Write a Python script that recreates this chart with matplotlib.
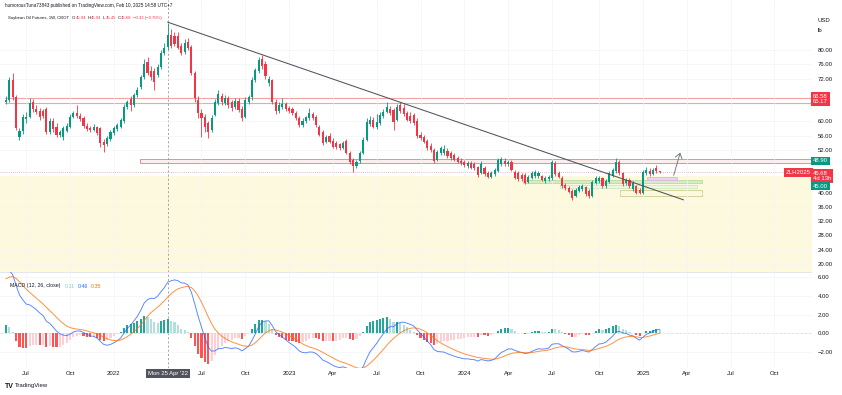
import numpy as np
import pandas as pd
import matplotlib
matplotlib.use("Agg")
import matplotlib.pyplot as plt
import matplotlib.dates as mdates
from matplotlib.patches import Rectangle
from matplotlib.transforms import blended_transform_factory

plt.rcParams['font.family'] = ['Liberation Sans', 'DejaVu Sans']

# ---------------- data (weekly candles, Soybean Oil Futures, CBOT) ----------------
first_week = "2021-05-24"
opens = [65.3, 66.0, 71.6, 66.8, 55.6, 57.2, 60.6, 61.3, 65.4, 63.6,
         63.0, 62.8, 63.5, 57.0, 60.2, 58.5, 56.3, 55.6, 57.3, 58.4,
         61.2, 62.4, 61.6, 61.0, 58.8, 58.2, 57.6, 58.3, 58.0, 54.2,
         53.6, 55.0, 56.8, 57.8, 58.5, 60.0, 64.0, 66.2, 64.6, 67.4,
         69.5, 72.4, 76.5, 74.2, 74.0, 73.0, 75.2, 79.2, 80.8, 84.2,
         83.8, 84.0, 81.0, 79.5, 82.2, 80.8, 73.5, 66.0, 62.3, 61.2,
         59.5, 57.5, 61.8, 65.2, 67.0, 65.2, 66.5, 65.4, 64.0, 65.8,
         63.4, 61.2, 65.5, 66.8, 71.6, 74.0, 77.6, 76.2, 70.8, 71.5,
         65.5, 62.8, 64.0, 64.8, 63.8, 63.4, 62.4, 61.0, 59.0, 60.0,
         61.0, 62.0, 61.2, 58.5, 57.0, 54.2, 56.0, 54.5, 53.9, 53.6,
         52.6, 54.4, 51.2, 49.2, 47.6, 48.8, 51.1, 54.8, 59.2, 60.4,
         58.5, 59.6, 61.5, 62.6, 63.4, 63.2, 60.4, 64.6, 63.8, 62.4,
         61.6, 61.8, 60.2, 56.3, 55.6, 54.5, 53.2, 52.0, 49.2, 51.0,
         51.0, 51.8, 51.0, 50.5, 49.8, 49.0, 48.6, 47.6, 48.3, 48.0,
         47.2, 45.6, 47.0, 45.4, 44.5, 45.2, 46.2, 48.0, 49.0, 47.9,
         48.6, 45.8, 45.4, 45.0, 45.0, 43.0, 44.2, 44.6, 44.6, 44.6,
         43.2, 43.8, 44.0, 48.4, 45.4, 44.2, 42.2, 41.4, 40.6, 39.2,
         40.6, 41.0, 41.6, 40.4, 39.2, 42.8, 43.2, 44.0, 41.8, 43.0,
         44.8, 46.0, 48.6, 45.4, 42.6, 43.6, 41.0, 41.8, 40.8, 40.0,
         45.5, 46.2, 45.2, 47.0, 45.94]
highs = [67.0, 72.5, 73.5, 67.5, 58.0, 62.0, 62.5, 66.5, 66.2, 64.5,
         63.8, 63.5, 64.0, 61.0, 61.0, 59.5, 57.5, 58.6, 59.5, 62.0,
         63.0, 64.6, 62.2, 61.5, 59.5, 58.8, 59.2, 58.8, 58.5, 55.0,
         55.8, 57.6, 58.6, 59.6, 61.0, 64.8, 66.0, 67.0, 68.0, 69.6,
         73.0, 77.5, 78.0, 75.5, 75.0, 76.0, 80.0, 82.0, 87.6, 85.8,
         85.0, 85.0, 82.0, 83.0, 83.4, 81.5, 74.0, 67.0, 63.5, 62.0,
         60.0, 61.8, 66.2, 68.8, 68.0, 67.5, 67.2, 66.0, 66.5, 66.5,
         64.2, 66.8, 67.5, 72.5, 75.0, 78.0, 78.6, 77.0, 72.8, 72.0,
         66.2, 65.3, 66.5, 65.5, 64.4, 64.0, 63.0, 61.5, 60.8, 61.6,
         63.7, 62.6, 61.8, 59.0, 57.5, 56.2, 56.6, 55.2, 54.5, 54.0,
         54.6, 55.0, 51.6, 49.8, 49.2, 51.8, 55.5, 60.8, 61.5, 61.2,
         62.0, 62.5, 63.4, 65.4, 64.2, 63.8, 64.8, 65.5, 64.8, 63.0,
         62.5, 62.4, 60.8, 57.0, 56.2, 55.0, 53.8, 52.4, 52.0, 53.2,
         53.5, 52.4, 51.6, 51.0, 50.4, 49.6, 49.2, 49.0, 48.8, 48.6,
         47.6, 48.8, 47.5, 46.0, 46.0, 46.9, 49.8, 50.0, 49.6, 49.3,
         49.2, 46.4, 46.0, 45.5, 45.5, 45.0, 46.0, 46.4, 46.0, 45.0,
         44.6, 45.0, 49.2, 49.0, 46.0, 44.6, 42.8, 41.8, 41.0, 41.3,
         42.2, 42.5, 42.0, 41.0, 43.6, 44.8, 44.8, 44.5, 43.8, 46.0,
         47.0, 49.8, 49.2, 45.8, 44.2, 44.2, 43.2, 42.2, 41.2, 46.4,
         47.2, 46.8, 47.0, 47.8, 45.94]
lows = [64.8, 65.5, 66.0, 57.5, 54.9, 56.5, 59.5, 60.8, 62.5, 62.0,
        60.5, 61.0, 56.5, 56.5, 57.0, 55.5, 55.5, 54.9, 57.0, 58.0,
        60.8, 61.0, 60.0, 58.0, 57.2, 57.0, 57.2, 56.2, 52.8, 51.5,
        53.0, 54.5, 56.3, 57.3, 58.0, 59.5, 63.6, 63.0, 64.0, 66.8,
        69.0, 72.0, 73.0, 71.5, 68.8, 72.5, 74.8, 78.5, 80.0, 80.5,
        81.0, 80.2, 78.5, 79.0, 80.0, 73.0, 65.5, 61.0, 55.6, 57.0,
        55.3, 57.0, 61.4, 64.5, 64.5, 64.5, 63.8, 63.0, 63.5, 62.5,
        60.0, 60.8, 64.8, 66.0, 71.0, 73.5, 74.8, 72.0, 70.0, 65.0,
        62.0, 62.2, 63.5, 62.8, 62.2, 61.8, 60.5, 58.5, 58.4, 59.5,
        60.5, 60.5, 58.5, 55.8, 53.5, 53.8, 53.8, 52.5, 52.3, 52.0,
        52.2, 50.8, 48.0, 45.8, 46.8, 48.4, 50.8, 54.5, 58.6, 58.0,
        57.8, 59.0, 61.0, 62.2, 61.8, 57.6, 60.0, 62.2, 61.5, 60.0,
        59.5, 59.0, 55.2, 54.8, 53.8, 52.0, 51.5, 48.2, 48.8, 50.5,
        50.6, 49.8, 49.3, 48.8, 48.2, 47.8, 47.2, 47.0, 46.5, 46.4,
        44.5, 45.2, 44.8, 44.0, 44.0, 44.8, 45.8, 47.5, 47.4, 47.4,
        46.0, 43.8, 43.3, 43.2, 42.3, 42.6, 43.8, 44.2, 44.0, 43.2,
        42.8, 43.4, 43.6, 44.8, 44.0, 41.3, 40.8, 39.8, 38.0, 38.8,
        40.2, 40.6, 39.2, 38.5, 38.8, 42.4, 42.8, 41.4, 41.4, 42.6,
        44.4, 45.6, 45.0, 42.0, 42.2, 41.4, 40.6, 39.6, 39.5, 39.6,
        45.0, 44.8, 44.9, 45.5, 45.45]
closes = [66.0, 71.6, 66.8, 58.2, 57.2, 61.2, 61.3, 65.1, 63.4, 62.6,
          61.3, 61.6, 57.0, 60.2, 57.8, 56.3, 56.9, 58.1, 58.7, 61.2,
          62.4, 61.6, 60.6, 58.6, 57.8, 57.6, 58.5, 56.8, 54.0, 53.3,
          55.2, 57.0, 58.1, 59.0, 60.4, 64.0, 65.4, 64.6, 67.4, 68.8,
          72.4, 76.2, 73.6, 72.5, 71.0, 75.2, 79.2, 80.6, 84.2, 81.2,
          81.8, 80.6, 79.3, 82.0, 80.6, 73.5, 66.5, 62.3, 61.0, 58.4,
          57.0, 61.0, 65.4, 67.8, 65.4, 66.6, 64.5, 63.8, 65.6, 63.2,
          61.0, 66.0, 66.8, 71.6, 74.4, 77.2, 75.4, 72.6, 71.8, 65.5,
          62.8, 64.5, 65.0, 63.4, 62.8, 62.4, 61.0, 59.0, 60.2, 61.2,
          62.3, 61.0, 59.0, 56.3, 54.0, 55.6, 54.3, 52.9, 52.8, 52.5,
          54.0, 51.2, 48.6, 47.6, 48.6, 51.1, 54.8, 59.8, 60.4, 58.5,
          59.8, 61.8, 62.6, 64.0, 62.4, 59.8, 64.0, 62.8, 62.0, 60.5,
          60.0, 59.6, 55.8, 55.4, 54.3, 52.6, 52.0, 48.8, 51.4, 52.5,
          52.2, 50.2, 49.8, 49.3, 48.6, 48.3, 47.8, 48.3, 47.0, 46.9,
          45.0, 48.0, 45.2, 44.5, 45.5, 46.4, 49.2, 49.4, 47.9, 48.6,
          46.4, 44.2, 43.8, 43.7, 42.8, 44.4, 45.5, 45.8, 45.4, 43.6,
          44.0, 44.4, 48.6, 45.2, 44.4, 41.8, 41.3, 40.3, 38.6, 40.8,
          41.6, 41.8, 39.6, 39.0, 43.0, 44.1, 44.2, 41.8, 43.2, 45.5,
          46.4, 48.6, 45.4, 42.4, 43.6, 41.8, 42.6, 40.0, 40.0, 45.8,
          46.4, 45.2, 46.4, 46.0, 45.68]

# MACD state carried in from the history before the first visible bar
ema_fast_seed = 65.4
ema_slow_seed = 58.2
signal_seed = 5.6

# drawings on the chart
trend_weeks = [48, 201]
trend_prices = [87.8, 38.0]
resist_lines = [66.58, 65.17]
resist_box = [48.3, 49.35]
support_zone_top = 44.7
price_ticks = [20, 24, 28, 32, 36, 40, 52, 56, 60, 72, 76, 80]
macd_ticks = [-2, 0, 2, 4, 6]
tick_dates = ["2021-07-05", "2021-10-04", "2022-01-03", "2022-07-04", "2022-10-03",
              "2023-01-02", "2023-04-03", "2023-07-03", "2023-10-02", "2024-01-01",
              "2024-04-01", "2024-07-01", "2024-10-07", "2025-01-06", "2025-04-07",
              "2025-07-07", "2025-10-06"]
tick_labels = ["Jul", "Oct", "2022", "Jul", "Oct", "2023", "Apr", "Jul", "Oct", "2024",
               "Apr", "Jul", "Oct", "2025", "Apr", "Jul", "Oct"]

# ---------------- figure ----------------
W, H = 842, 395
PLOT_R = 812
fig = plt.figure(figsize=(W / 100, H / 100), dpi=100)
fig.patch.set_facecolor('white')


def rect_px(left, top, w, h):
    return [left / W, 1 - (top + h) / H, w / W, h / H]


ax = fig.add_axes(rect_px(0, 0, PLOT_R, 272))
axm = fig.add_axes(rect_px(0, 272, PLOT_R, 96), sharex=ax)

UP, DN = '#089981', '#F23645'
TXT = '#131722'

dates = pd.date_range(first_week, periods=len(closes), freq='7D')
xd = mdates.date2num(dates)
wk = 7.0
x_left = xd[0] - 1.78 * wk
x_right = xd[0] + (PLOT_R - 6) / 3.37 * wk

for a in (ax, axm):
    for s in a.spines.values():
        s.set_visible(False)
    a.set_facecolor('white')

ax.set_xlim(x_left, x_right)
ax.set_ylim(17.76, 94.02)
axm.set_ylim(-3.67, 6.54)

tick_x = mdates.date2num(pd.to_datetime(tick_dates))
ax.set_xticks(tick_x)
ax.tick_params(axis='x', length=0, labelbottom=False)
ax.grid(True, color='#f3f4f7', lw=0.5)
axm.grid(True, color='#f3f4f7', lw=0.5)

# support (yellow) zone
ax.add_patch(Rectangle((x_left, 0), x_right - x_left, support_zone_top,
                       facecolor='#fdf9de', edgecolor='none', zorder=0.5))

# resistance lines and box
for p in resist_lines:
    ax.plot([xd[0] - 0.3 * wk, x_right], [p, p], color='#f3a3a3', lw=0.8, zorder=1)
rb_x0 = xd[0] + 39.8 * wk
ax.add_patch(Rectangle((rb_x0, resist_box[0]), x_right - rb_x0, resist_box[1] - resist_box[0],
                       facecolor='#fdeeee', edgecolor='#ec8e8e', lw=0.7, zorder=1))

# small zones near the recent bars
zones = [  # (start week, end week, low, high, face, edge)
    (153.4, 206.6, 42.7, 43.6, '#d7ecc5', '#b9dca0'),
    (164.4, 205.1, 41.3, 42.2, '#eef6e6', '#cfe6bf'),
    (182.2, 206.6, 39.1, 40.8, 'none', '#c9cf8f'),
    (190.2, 199.1, 43.6, 44.4, '#e8d4ec', '#d9b8e0'),
]
for s, e, lo, hi, fc, ec in zones:
    ax.add_patch(Rectangle((xd[0] + s * wk, lo), (e - s) * wk, hi - lo,
                           facecolor=fc, edgecolor=ec, lw=0.6, zorder=1.2))

# last price dotted line
ax.axhline(closes[-1], color='#e3a3a8', lw=0.6, ls=(0, (1, 1.5)), zorder=1)

# crosshair (vertical dashed)
cross_x = xd[48]
ax.axvline(cross_x, color='#9598a1', lw=0.6, ls=(0, (2.5, 2.5)), zorder=1.5)
axm.axvline(cross_x, color='#9598a1', lw=0.6, ls=(0, (2.5, 2.5)), zorder=1.5)

# candles
o = np.array(opens); h = np.array(highs); l = np.array(lows); c = np.array(closes)
col = np.where(c >= o, UP, DN)
ax.vlines(xd, l, h, colors=col, lw=0.6, zorder=3)
ax.bar(xd, np.maximum(np.abs(c - o), 0.15), bottom=np.minimum(o, c), width=4.4,
       color=col, linewidth=0, zorder=4)

# trend line
tx = [xd[0] + w * wk for w in trend_weeks]
ax.plot(tx, trend_prices, color='#50535e', lw=0.75, zorder=5)

# arrow
ax.annotate('', xy=(xd[0] + 200.3 * wk, 52.0), xytext=(xd[0] + 197.9 * wk, 44.1),
            arrowprops=dict(arrowstyle='->,head_length=0.35,head_width=0.25',
                            color='#787b86', lw=0.7), zorder=6)

# right price scale
ax.yaxis.tick_right()
ax.set_yticks(price_ticks)
ax.set_yticklabels([f"{v:.2f}" for v in price_ticks])
ax.tick_params(axis='y', length=0, pad=4, labelsize=4.3, colors=TXT)

tr = blended_transform_factory(fig.transFigure, ax.transData)


def tag(y, text, color, xpx=PLOT_R + 1, ha='left', ls=1.1):
    ax.text(xpx / W, y, text, transform=tr, ha=ha, va='center', fontsize=4.3,
            color='white', linespacing=ls, clip_on=False, zorder=10,
            bbox=dict(boxstyle='square,pad=0.28', fc=color, ec='none'))


tag(66.2, "66.58\n65.17", DN)
tag(48.9, "48.90", UP)
tag(44.6, "45.68\n4d 13h", DN)
tag(41.8, "45.00", UP)
tag(45.68, "ZLH2025", DN, xpx=PLOT_R - 1, ha='right')
fig.text(818 / W, 1 - 20 / H, "USD", fontsize=4.3, color=TXT, va='center')
fig.text(818 / W, 1 - 31 / H, "lb", fontsize=4.3, color=TXT, va='center')

# ---------------- MACD ----------------
def ema(values, span, seed):
    a = 2.0 / (span + 1)
    out, e = [], seed
    for v in values:
        e = e + a * (v - e)
        out.append(e)
    return np.array(out)


macd = ema(closes, 12, ema_fast_seed) - ema(closes, 26, ema_slow_seed)
signal = ema(macd, 9, signal_seed)
hist = macd - signal
hcol = []
prev = hist[0]
for i, v in enumerate(hist):
    rising = v > prev if i > 0 else True
    if v >= 0:
        hcol.append('#26A69A' if rising else '#B2DFDB')
    else:
        hcol.append('#FFCDD2' if rising else '#FF5252')
    prev = v
axm.bar(xd, hist, width=4.4, color=hcol, linewidth=0, zorder=2)
axm.plot(xd, macd, color='#2962FF', lw=0.7, alpha=0.75, zorder=3)
axm.plot(xd, signal, color='#FF6D00', lw=0.7, alpha=0.75, zorder=3)
axm.axhline(0, color='#b2b5be', lw=0.6, ls=(0, (3, 2)), zorder=1)
axm.axhline(axm.get_ylim()[1], color='#e0e3eb', lw=0.6)

axm.yaxis.tick_right()
axm.set_yticks(macd_ticks)
axm.set_yticklabels([f"{v:.2f}" if v >= 0 else f"\u2212{abs(v):.2f}" for v in macd_ticks])
axm.tick_params(axis='y', length=0, pad=4, labelsize=4.3, colors=TXT)

axm.set_xticks(tick_x)
axm.set_xticklabels(tick_labels)
axm.tick_params(axis='x', length=0, pad=2.5, labelsize=4.3, colors=TXT)

trm = blended_transform_factory(axm.transData, axm.transAxes)
axm.text(cross_x, -0.055, "Mon 25 Apr '22", transform=trm, ha='center', va='center',
         fontsize=4.3, color='white', clip_on=False, zorder=10,
         bbox=dict(boxstyle='square,pad=0.35', fc='#50535e', ec='none'))

renderer = fig.canvas.get_renderer()


def text_run(x0, ypx, parts, size):
    xcur = x0
    for s, cc, gap in parts:
        t = fig.text(xcur / W, 1 - ypx / H, s, fontsize=size, color=cc, va='center')
        xcur = t.get_window_extent(renderer).x1 + gap


# MACD legend
text_run(10, 286, [("MACD (12, 26, close)", TXT, 4), ("0.11", '#80cbc4', 3),
                   ("0.46", '#2962FF', 3), ("0.35", '#FF6D00', 0)], 3.8)

# ---------------- header / footer ----------------
fig.text(5 / W, 1 - 6 / H,
         "humorousTuna73843 published on TradingView.com, Feb 10, 2025 14:58 UTC+7",
         fontsize=3.3, color=TXT, va='center')
text_run(8, 18, [("Soybean Oil Futures, 1W, CBOT", TXT, 3),
                 ("O", TXT, 0.2), ("45.94", DN, 1.5),
                 ("H", TXT, 0.2), ("45.94", DN, 1.5),
                 ("L", TXT, 0.2), ("45.45", DN, 1.5),
                 ("C", TXT, 0.2), ("45.68", DN, 1.5),
                 ("\u22120.32 (\u22120.70%)", DN, 0)], 3.1)

fig.text(5 / W, 1 - 386 / H, "TV", fontsize=5, color=TXT, va='center', weight='bold')
fig.text(15 / W, 1 - 386 / H, "TradingView", fontsize=4.3, color=TXT, va='center')

fig.savefig("out.png", dpi=100, facecolor='white')
